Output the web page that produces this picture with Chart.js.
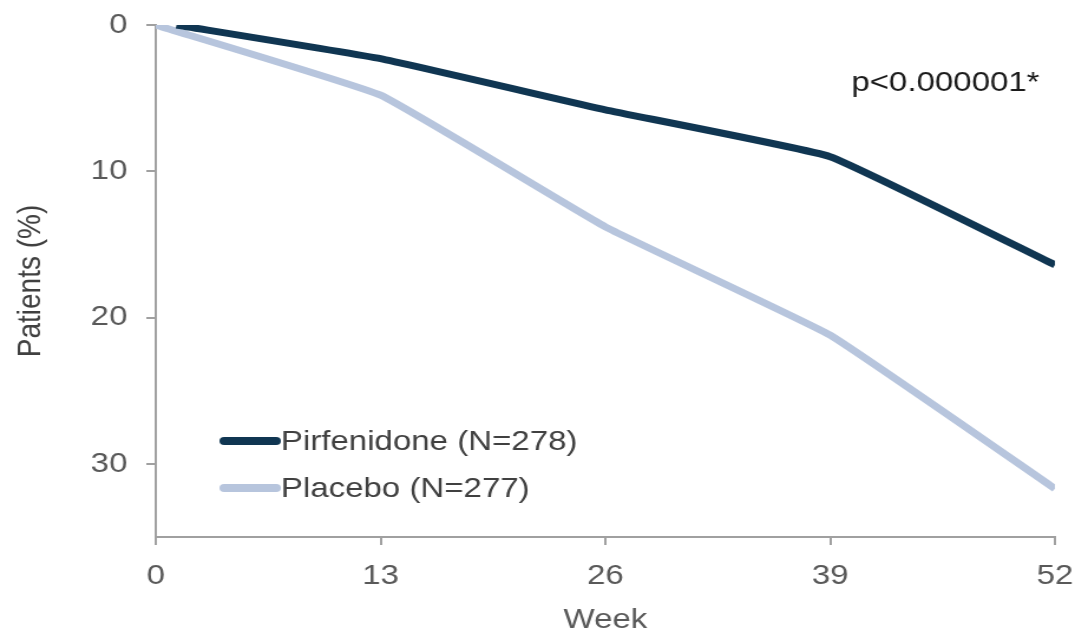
<!DOCTYPE html>
<html>
<head>
<meta charset="utf-8">
<script src="https://cdn.jsdelivr.net/npm/chart.js@4.4.1/dist/chart.umd.min.js"></script>
<style>
    html, body { margin: 0; padding: 0; background: #fff; overflow: hidden; }
    /* the figure is drawn a bit narrower and widened with scaleX, like the slide it came from */
    #wrap { width: 912px; height: 638px; transform: scaleX(1.18); transform-origin: 0 0; }
</style>
</head>
<body>
<div id="wrap"><canvas id="progressionChart"></canvas></div>
<script>
// Semanas y porcentaje de pacientes
const pirfWeeks = [1.2, 13, 26, 39, 52];
const pirfValues = [0, 2.3, 5.8, 9.0, 16.4];
const placeboWeeks = [0, 13, 26, 39, 52];
const placeboValues = [0, 4.8, 13.8, 21.2, 31.7];

const seriesLabels = ['Pirfenidone (N=278)', 'Placebo (N=277)'];
const weekTicks = [0, 13, 26, 39, 52];
const percentTicks = [0, 10, 20, 30];
const pValueText = 'p<0.000001*';

const FONT = '"Liberation Sans", Arial, sans-serif';

// Leyenda dentro del área del gráfico, abajo a la izquierda
const insideLegend = {
    id: 'insideLegend',
    afterDatasetsDraw(chart) {
        const ctx = chart.ctx;
        const area = chart.chartArea;
        const rows = [area.bottom - 96, area.bottom - 49];
        ctx.save();
        ctx.font = '28px ' + FONT;
        ctx.textBaseline = 'middle';
        chart.data.datasets.forEach((ds, i) => {
            const y = rows[i];
            ctx.strokeStyle = ds.borderColor;
            ctx.lineWidth = 8;
            ctx.lineCap = 'round';
            ctx.beginPath();
            ctx.moveTo(area.left + 58, y);
            ctx.lineTo(area.left + 102, y);
            ctx.stroke();
            ctx.fillStyle = '#404040';
            ctx.fillText(ds.label, area.left + 106, y + 1);
        });
        // valor p arriba a la derecha
        ctx.fillStyle = '#1a1a1a';
        ctx.textAlign = 'right';
        ctx.fillText(pValueText, area.right - 13, 83);
        ctx.restore();
    }
};

const ctx = document.getElementById('progressionChart').getContext('2d');

const progressionChart = new Chart(ctx, {
    type: 'line',
    data: {
        datasets: [{
            label: seriesLabels[0],
            data: pirfWeeks.map((w, i) => ({ x: w, y: pirfValues[i] })),
            borderColor: '#103652',
            borderWidth: 7,
            pointRadius: 0,
            tension: 0.1
        }, {
            label: seriesLabels[1],
            data: placeboWeeks.map((w, i) => ({ x: w, y: placeboValues[i] })),
            borderColor: '#b7c5dd',
            borderWidth: 7,
            pointRadius: 0,
            tension: 0.1
        }]
    },
    options: {
        responsive: true,
        maintainAspectRatio: false,
        animation: false,
        layout: {
            padding: { top: 25, right: 18, bottom: 0, left: 0 }
        },
        plugins: {
            legend: { display: false },
            tooltip: { enabled: false }
        },
        scales: {
            x: {
                type: 'linear',
                min: 0,
                max: 52,
                afterBuildTicks: axis => { axis.ticks = weekTicks.map(v => ({ value: v })); },
                afterFit: axis => {
                    axis.height = 101;
                    axis.paddingLeft = 0;
                    axis.paddingRight = 0;
                },
                ticks: {
                    color: '#595959',
                    font: { family: FONT, size: 28 },
                    padding: 14
                },
                grid: {
                    drawOnChartArea: false,
                    drawTicks: true,
                    tickLength: 8,
                    color: '#a0a0a0',
                    lineWidth: 2
                },
                border: { display: true, color: '#a0a0a0', width: 2 },
                title: {
                    display: true,
                    text: 'Week',
                    color: '#595959',
                    font: { family: FONT, size: 28 },
                    padding: { top: 0, bottom: 1 }
                }
            },
            y: {
                reverse: true,
                min: 0,
                max: 35,
                afterBuildTicks: axis => { axis.ticks = percentTicks.map(v => ({ value: v })); },
                afterFit: axis => {
                    axis.width = 132;
                    axis.paddingTop = 0;
                    axis.paddingBottom = 0;
                },
                ticks: {
                    color: '#595959',
                    font: { family: FONT, size: 28 },
                    padding: 16
                },
                grid: {
                    drawOnChartArea: false,
                    drawTicks: true,
                    tickLength: 8,
                    color: '#a0a0a0',
                    lineWidth: 2
                },
                border: { display: true, color: '#a0a0a0', width: 2 },
                title: {
                    display: true,
                    text: 'Patients (%)',
                    color: '#404040',
                    font: { family: FONT, size: 28 },
                    padding: { top: 9, bottom: 0 }
                }
            }
        }
    },
    plugins: [insideLegend]
});
</script>
</body>
</html>
